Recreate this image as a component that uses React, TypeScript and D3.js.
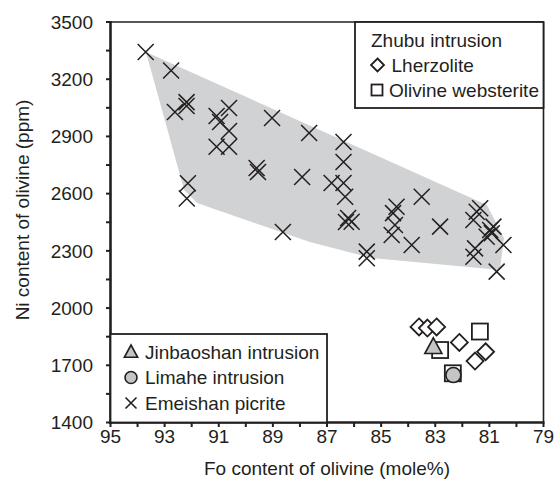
import React from "react";
import * as d3 from "d3";

const W = 556;
const H = 487;

// Emeishan picrite
const picriteFo = [93.7, 92.76, 92.62, 92.19, 92.19, 91.08, 90.62, 90.95, 90.62, 91.08, 90.62, 89.6, 89.55, 89.03, 87.66, 87.92, 86.39, 86.39, 86.83, 86.39, 86.33, 86.22, 86.09, 86.3, 84.43, 84.56, 84.49, 84.61, 83.87, 83.5, 82.82, 85.53, 85.53, 81.34, 81.47, 81.59, 80.97, 80.91, 81.1, 80.85, 80.48, 81.53, 81.59, 80.73, 88.63, 92.14, 92.18];
const picriteNi = [3343, 3246, 3028, 3080, 3060, 3007, 3049, 2976, 2928, 2846, 2846, 2734, 2713, 2997, 2918, 2687, 2871, 2766, 2656, 2656, 2584, 2472, 2453, 2451, 2531, 2498, 2436, 2383, 2331, 2584, 2427, 2296, 2261, 2523, 2505, 2462, 2409, 2392, 2374, 2427, 2331, 2313, 2269, 2191, 2399, 2654, 2575];

// Zhubu lherzolite
const lherzFo = [83.6, 83.29, 82.95, 82.11, 81.53, 81.14];
const lherzNi = [1901, 1895, 1901, 1820, 1722, 1771];

// Zhubu olivine websterite
const webFo = [81.35, 82.82, 82.35];
const webNi = [1877, 1780, 1658];

// Jinbaoshan intrusion
const jinFo = [83.07];
const jinNi = [1797];

// Limahe intrusion
const limFo = [82.33];
const limNi = [1649];

// Grey field envelope of picrites
const fieldFo = [93.69, 81.09, 80.46, 80.61, 85.34, 87.63, 91.8, 92.28];
const fieldNi = [3343, 2540, 2367, 2200, 2262, 2346, 2551, 2619];

const xTicks = [95, 93, 91, 89, 87, 85, 83, 81, 79];
const yTicks = [1400, 1700, 2000, 2300, 2600, 2900, 3200, 3500];

const FONT = "'Liberation Sans', Arial, Helvetica, sans-serif";
const INK = "#231f20";
const GREY = "#d1d2d4";
const MGREY = "#c4c5c7";

export default function App() {
  const x = d3.scaleLinear().domain([95, 79]).range([110.5, 543.5]);
  const y = d3.scaleLinear().domain([1400, 3500]).range([422.5, 22]);

  const fieldPts: [number, number][] = fieldFo.map((f, i) => [x(f), y(fieldNi[i])]);
  const fieldPath = d3.line().curve(d3.curveLinearClosed)(fieldPts) || "";

  const xMinor = d3.range(95, 78.5, -1);
  const yMinor = d3.range(1400, 3501, 150);

  const cross = (cx: number, cy: number, s: number, key: string, sw = 1.5) => (
    <path key={key} d={`M${cx - s},${cy - s}L${cx + s},${cy + s}M${cx - s},${cy + s}L${cx + s},${cy - s}`} stroke={INK} strokeWidth={sw} fill="none" />
  );
  const diamond = (cx: number, cy: number, s: number, key: string, sw = 1.8) => (
    <path key={key} d={`M${cx},${cy - s}L${cx + s},${cy}L${cx},${cy + s}L${cx - s},${cy}Z`} stroke={INK} strokeWidth={sw} fill="#fff" />
  );
  const square = (cx: number, cy: number, s: number, key: string, sw = 1.8) => (
    <rect key={key} x={cx - s} y={cy - s} width={2 * s} height={2 * s} stroke={INK} strokeWidth={sw} fill="#fff" />
  );
  const triangle = (cx: number, cy: number, s: number, key: string) => (
    <path key={key} d={`M${cx},${cy - s}L${cx + s * 0.95},${cy + s * 0.75}L${cx - s * 0.95},${cy + s * 0.75}Z`} stroke={INK} strokeWidth={1.6} fill={MGREY} />
  );

  return (
    <svg width={W} height={H} style={{ position: "fixed", left: 0, top: 0, background: "#fff" }} fontFamily={FONT}>
      <rect width={W} height={H} fill="#fff" />
      {/* grey field */}
      <path d={fieldPath} fill={GREY} stroke="none" />

      {/* picrite crosses */}
      {picriteFo.map((f, i) => cross(x(f), y(picriteNi[i]), 8, `p${i}`))}

      {/* websterite squares */}
      {webFo.map((f, i) => square(x(f), y(webNi[i]), 8, `w${i}`))}
      {/* lherzolite diamonds */}
      {lherzFo.map((f, i) => diamond(x(f), y(lherzNi[i]), 8.5, `l${i}`))}
      {/* Jinbaoshan */}
      {jinFo.map((f, i) => triangle(x(f), y(jinNi[i]), 9, `j${i}`))}
      {/* Limahe */}
      {limFo.map((f, i) => (
        <circle key={`m${i}`} cx={x(f)} cy={y(limNi[i])} r={7.5} fill={MGREY} stroke={INK} strokeWidth={1.6} />
      ))}

      {/* frame */}
      <line x1={110.5} x2={543.5} y1={22} y2={22} stroke={INK} strokeWidth={1.6} />
      <line x1={543.5} x2={543.5} y1={22} y2={422.5} stroke={INK} strokeWidth={1.6} />
      <line x1={110.5} x2={110.5} y1={21} y2={424} stroke={INK} strokeWidth={2.6} />
      <line x1={109} x2={544.5} y1={422.5} y2={422.5} stroke={INK} strokeWidth={2.6} />

      {/* y ticks */}
      {yMinor.map((v) => (
        <line key={`ym${v}`} x1={106} x2={110.5} y1={y(v)} y2={y(v)} stroke={INK} strokeWidth={2} />
      ))}
      {yTicks.map((v) => (
        <text key={`yt${v}`} x={93} y={y(v)} dy="0.35em" textAnchor="end" fontSize={19} fill={INK}>
          {v}
        </text>
      ))}
      {/* x ticks */}
      {xMinor.map((v) => (
        <line key={`xm${v}`} x1={x(v)} x2={x(v)} y1={422.5} y2={427} stroke={INK} strokeWidth={2} />
      ))}
      {xTicks.map((v) => (
        <text key={`xt${v}`} x={x(v)} y={443} textAnchor="middle" fontSize={19} fill={INK}>
          {v}
        </text>
      ))}

      {/* axis titles */}
      <text x={327} y={475} textAnchor="middle" fontSize={19} fill={INK}>
        Fo content of olivine (mole%)
      </text>
      <text transform="translate(29,210) rotate(-90)" textAnchor="middle" fontSize={19} fill={INK}>
        Ni content of olivine (ppm)
      </text>

      {/* top-right legend */}
      <rect x={355} y={22} width={188.5} height={86} fill="#fff" stroke={INK} strokeWidth={1.8} />
      <text x={371} y={47} fontSize={19} fill={INK}>Zhubu intrusion</text>
      {diamond(377.5, 65, 6.5, "lgd1", 1.8)}
      <text x={391.5} y={72} fontSize={19} fill={INK}>Lherzolite</text>
      {square(377, 90, 5.5, "lgs1", 1.8)}
      <text x={389} y={97} fontSize={19} fill={INK}>Olivine websterite</text>

      {/* bottom-left legend */}
      <rect x={110.5} y={334} width={216.5} height={88.5} fill="#fff" stroke={INK} strokeWidth={1.8} />
      {triangle(131, 352, 7, "lgt")}
      <text x={145} y={358.5} fontSize={19} fill={INK}>Jinbaoshan intrusion</text>
      <circle cx={131} cy={377.5} r={6} fill={MGREY} stroke={INK} strokeWidth={1.6} />
      <text x={145} y={384} fontSize={19} fill={INK}>Limahe intrusion</text>
      {cross(131, 403, 5.5, "lgx", 1.6)}
      <text x={145} y={409.5} fontSize={19} fill={INK}>Emeishan picrite</text>
    </svg>
  );
}
